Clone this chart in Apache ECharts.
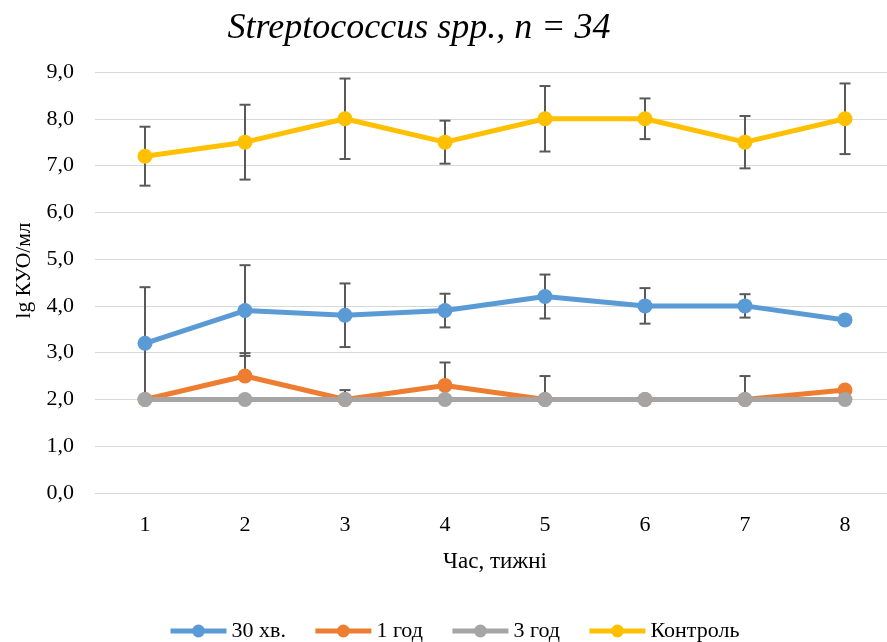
<!DOCTYPE html>
<html>
<head>
<meta charset="utf-8">
<script src="https://cdn.jsdelivr.net/npm/echarts@6/dist/echarts.min.js"></script>
<style>
  html, body { margin: 0; padding: 0; background: #fff; overflow: hidden; }
  /* plot area runs slightly past the right edge of the window */
  #chart { width: 895px; height: 642px; }
</style>
</head>
<body>
<div id="chart"></div>
<script>
// Weeks of observation
const weeks = ['1', '2', '3', '4', '5', '6', '7', '8'];

// Mean lg CFU/ml per week
const min30 = [3.2, 3.9, 3.8, 3.9, 4.2, 4.0, 4.0, 3.7];
const hour1 = [2.0, 2.5, 2.0, 2.3, 2.0, 2.0, 2.0, 2.2];
const hour3 = [2.0, 2.0, 2.0, 2.0, 2.0, 2.0, 2.0, 2.0];
const control = [7.2, 7.5, 8.0, 7.5, 8.0, 8.0, 7.5, 8.0];

// Error bar half-widths (null = no bar)
const min30Err = [1.2, 0.97, 0.68, 0.36, 0.47, 0.38, 0.25, null];
const hour1ErrUp = [null, 0.49, 0.2, 0.49, 0.5, null, 0.5, null];
const controlErr = [0.63, 0.8, 0.86, 0.46, 0.7, 0.435, 0.56, 0.755];

// Y axis ticks
const yMin = 0, yMax = 9, yStep = 1;

const seriesNames = ['30 хв.', '1 год', '3 год', 'Контроль'];
const colors = ['#5B9BD5', '#ED7D31', '#A5A5A5', '#FFC000'];
const FONT = '"Liberation Serif", "Times New Roman", serif';

function errData(values, up, down) {
  const out = [];
  values.forEach((v, i) => {
    const u = up[i], d = down ? down[i] : 0;
    if (u == null && (d == null || d === 0)) return;
    out.push([i, v - (d || 0), v + (u || 0)]);
  });
  return out;
}

function errSeries(data, hasLow) {
  return {
    type: 'custom',
    silent: true,
    legendHoverLink: false,
    renderItem: function (params, api) {
      const x = api.value(0);
      const lo = api.coord([x, api.value(1)]);
      const hi = api.coord([x, api.value(2)]);
      const half = 5.5;
      const style = { stroke: '#595959', lineWidth: 2, fill: null };
      const children = [
        { type: 'line', shape: { x1: lo[0], y1: lo[1], x2: hi[0], y2: hi[1] }, style: style },
        { type: 'line', shape: { x1: hi[0] - half, y1: hi[1], x2: hi[0] + half, y2: hi[1] }, style: style }
      ];
      if (hasLow) {
        children.push({ type: 'line', shape: { x1: lo[0] - half, y1: lo[1], x2: lo[0] + half, y2: lo[1] }, style: style });
      }
      return { type: 'group', children: children };
    },
    encode: { x: 0, y: [1, 2] },
    data: data
  };
}

function lineSeries(name, data, color) {
  return {
    name: name,
    type: 'line',
    data: data,
    symbol: 'circle',
    symbolSize: 15,
    lineStyle: { color: color, width: 5 },
    itemStyle: { color: color },
    emphasis: { disabled: true },
    animation: false
  };
}

const chart = echarts.init(document.getElementById('chart'), null, { renderer: 'canvas' });

chart.setOption({
  animation: false,
  backgroundColor: '#ffffff',
  color: colors,
  title: {
    text: 'Streptococcus spp., n = 34',
    left: 414,
    textAlign: 'center',
    top: 6,
    textStyle: { fontFamily: FONT, fontStyle: 'italic', fontWeight: 'normal', fontSize: 36, color: '#000' }
  },
  legend: {
    data: seriesNames,
    left: 163,
    top: 615,
    itemWidth: 56,
    itemHeight: 16,
    itemGap: 27,
    lineStyle: { width: 5 },
    textStyle: { fontFamily: FONT, fontSize: 22, color: '#000' }
  },
  grid: { left: 95, top: 72, width: 800, height: 421, containLabel: false },
  xAxis: {
    type: 'category',
    data: weeks,
    boundaryGap: true,
    name: 'Час, тижні',
    nameLocation: 'middle',
    nameGap: 57,
    nameTextStyle: { fontFamily: FONT, fontSize: 23, color: '#000' },
    axisLine: { lineStyle: { color: '#d9d9d9', width: 1 } },
    axisTick: { show: false },
    axisLabel: { fontFamily: FONT, fontSize: 22, color: '#000', margin: 21 },
    splitLine: { show: false }
  },
  yAxis: {
    type: 'value',
    min: yMin,
    max: yMax,
    interval: yStep,
    name: 'lg КУО/мл',
    nameLocation: 'middle',
    nameGap: 57,
    nameTextStyle: { fontFamily: FONT, fontSize: 21.5, color: '#000', padding: [0, 0, 0, 24] },
    axisLine: { show: false },
    axisTick: { show: false },
    axisLabel: {
      fontFamily: FONT, fontSize: 22, color: '#000', margin: 21,
      formatter: v => v.toFixed(1).replace('.', ',')
    },
    splitLine: { lineStyle: { color: '#d9d9d9', width: 1 } }
  },
  series: [
    lineSeries(seriesNames[0], min30, colors[0]),
    errSeries(errData(min30, min30Err, min30Err), true),
    lineSeries(seriesNames[1], hour1, colors[1]),
    errSeries(errData(hour1, hour1ErrUp, null), false),
    lineSeries(seriesNames[2], hour3, colors[2]),
    lineSeries(seriesNames[3], control, colors[3]),
    errSeries(errData(control, controlErr, controlErr), true)
  ]
});
</script>
</body>
</html>
